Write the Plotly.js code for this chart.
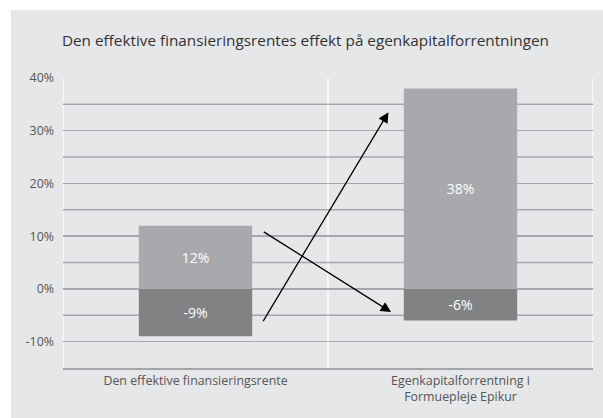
<!DOCTYPE html>
<html>
<head>
<meta charset="utf-8">
<script src="https://cdn.plot.ly/plotly-3.0.1.min.js"></script>
<style>
html,body{margin:0;padding:0;background:#ffffff;width:603px;height:418px;overflow:hidden;}
#chart{position:absolute;left:11px;top:10px;width:592px;height:408px;}
</style>
</head>
<body>
<div id="chart"></div>
<script>
var categories = ["Den effektive finansieringsrente", "Egenkapitalforrentning i<br>Formuepleje Epikur"];
var positiveValues = [12, 38];
var negativeValues = [-9, -6];
var yTickVals = [-10, 0, 10, 20, 30, 40];
var yTickText = ["-10%", "0%", "10%", "20%", "30%", "40%"];
var yMinorGridVals = [-5, 5, 15, 25, 35];
var titleText = "Den effektive finansieringsrentes effekt på egenkapitalforrentningen";
// arrows: tail (x0,y0) -> head (x1,y1), in category index / percent units
var arrowTailX = [0.252, 0.252];
var arrowTailY = [-6.4, 11.0];
var arrowHeadX = [0.728, 0.738];
var arrowHeadY = [33.5, -4.4];

var font = "'Open Sans', 'Noto Sans', sans-serif";

var traces = [
  {
    type: "bar",
    x: [0, 1],
    y: positiveValues,
    marker: {color: "#a8a9ac"},
    text: positiveValues.map(function(v){return v + "%";}),
    textposition: "inside",
    insidetextanchor: "middle",
    textfont: {color: "#ffffff", size: 14, family: font},
    hoverinfo: "skip",
    showlegend: false
  },
  {
    type: "bar",
    x: [0, 1],
    y: negativeValues,
    marker: {color: "#818284"},
    text: negativeValues.map(function(v){return v + "%";}),
    textposition: "inside",
    insidetextanchor: "middle",
    textfont: {color: "#ffffff", size: 14, family: font},
    hoverinfo: "skip",
    showlegend: false
  }
];

var annotations = arrowTailX.map(function(_, i){
  return {
    x: arrowHeadX[i], y: arrowHeadY[i], xref: "x", yref: "y",
    ax: arrowTailX[i], ay: arrowTailY[i], axref: "x", ayref: "y",
    showarrow: true, arrowhead: 2, arrowsize: 1.6, arrowwidth: 1.3,
    arrowcolor: "#000000", standoff: 0, startstandoff: 0, text: ""
  };
});

var gridShapes = yMinorGridVals.map(function(yv){
  return {type: "line", xref: "x", yref: "y", x0: -0.5, x1: 1.5, y0: yv, y1: yv,
          line: {color: "#a4a7ae", width: 1.5}, layer: "below"};
});
var sepShapes = [-0.5, 0.5, 1.5].map(function(xv){
  return {type: "line", xref: "x", yref: "paper", x0: xv, x1: xv, y0: 0, y1: 1,
          line: {color: "#ffffff", width: 1.5}, layer: "below"};
});

var layout = {
  width: 592,
  height: 408,
  paper_bgcolor: "#e6e7e9",
  plot_bgcolor: "rgba(0,0,0,0)",
  margin: {l: 52, r: 10, t: 68, b: 50},
  barmode: "relative",
  bargap: 0.572,
  font: {family: font, color: "#555555", size: 12},
  title: {
    text: titleText,
    font: {family: font, size: 15.3, color: "#333333"},
    xref: "container", x: 0.086, xanchor: "left",
    yref: "container", y: 0.926, yanchor: "middle"
  },
  xaxis: {
    type: "linear",
    range: [-0.5, 1.5],
    tickmode: "array",
    tickvals: [0, 1],
    ticktext: categories,
    showgrid: false,
    zeroline: false,
    showline: true,
    linecolor: "#a2a4a9",
    linewidth: 2,
    ticks: "",
    tickfont: {size: 12.4, color: "#555555", family: font},
    fixedrange: true
  },
  yaxis: {
    range: [-15, 40],
    tickmode: "array",
    tickvals: yTickVals,
    ticktext: yTickText,
    showgrid: true,
    gridcolor: "#a4a7ae",
    gridwidth: 1.5,
    zeroline: false,
    showline: false,
    ticks: "",
    ticklabelstandoff: 8,
    tickfont: {size: 12.4, color: "#555555", family: font},
    fixedrange: true
  },
  shapes: gridShapes.concat(sepShapes),
  annotations: annotations
};

Plotly.newPlot("chart", traces, layout, {displayModeBar: false, staticPlot: true});
</script>
</body>
</html>
